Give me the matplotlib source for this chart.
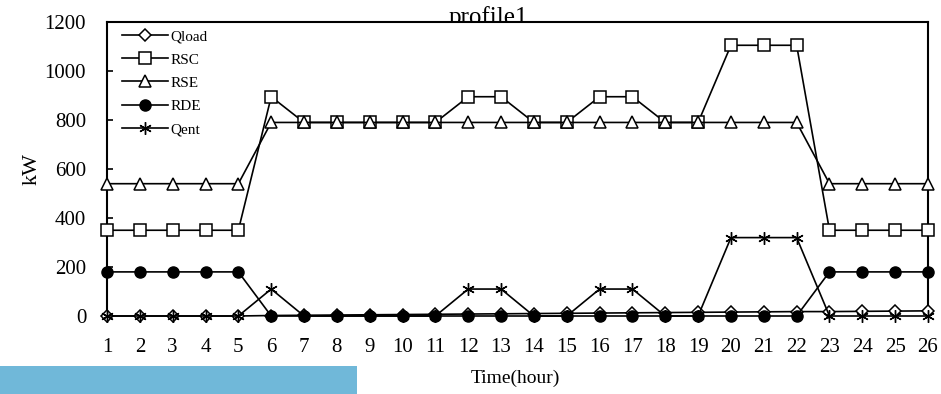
import matplotlib.pyplot as plt
from matplotlib.patches import Rectangle

plt.rcParams['font.family'] = ['Liberation Serif', 'DejaVu Serif']

hours = list(range(1, 27))
qload = [0, 0, 0, 0, 0, 2, 3, 4, 5, 6, 7, 8, 9, 10, 11, 12, 13, 14, 15, 16, 17, 18, 18, 19, 20, 21]
rsc = [350, 350, 350, 350, 350, 895, 790, 790, 790, 790, 790, 895, 895, 790, 790, 895, 895, 790, 790,
       1105, 1105, 1105, 350, 350, 350, 350]
rse = [540, 540, 540, 540, 540, 790, 790, 790, 790, 790, 790, 790, 790, 790, 790, 790, 790, 790, 790,
       790, 790, 790, 540, 540, 540, 540]
rde = [180, 180, 180, 180, 180, 0, 0, 0, 0, 0, 0, 0, 0, 0, 0, 0, 0, 0, 0, 0, 0, 0, 180, 180, 180, 180]
qent = [0, 0, 0, 0, 0, 110, 0, 0, 0, 0, 0, 110, 110, 0, 0, 110, 110, 0, 0, 320, 320, 320, 0, 0, 0, 0]

fig = plt.figure(figsize=(9.41, 3.94), dpi=100)
ax = fig.add_axes([107 / 941, 1 - 316 / 394, (928 - 107) / 941, (316 - 22) / 394])

lw = 1.2
ax.plot(hours, qload, color='black', lw=lw, marker='D', ms=6, mfc='white', mec='black', mew=1.1,
        label='Qload', clip_on=False, zorder=3)
ax.plot(hours, rsc, color='black', lw=lw, marker='s', ms=8, mfc='white', mec='black', mew=1.1,
        label='RSC', clip_on=False, zorder=3)
ax.plot(hours, rse, color='black', lw=lw, marker='^', ms=8, mfc='white', mec='black', mew=1.1,
        label='RSE', clip_on=False, zorder=3)
ax.plot(hours, rde, color='black', lw=lw, marker='o', ms=8, mfc='black', mec='black',
        label='RDE', clip_on=False, zorder=3)
ax.plot(hours, qent, color='black', lw=lw, marker=(6, 2, 0), ms=9, mec='black', mew=1.0,
        label='Qent', clip_on=False, zorder=3)

ax.set_xlim(1, 26)
ax.set_ylim(0, 1200)
ax.set_xticks(hours)
ax.set_yticks(range(0, 1201, 200))
ax.tick_params(axis='x', labelsize=15, length=0, pad=16)
ax.tick_params(axis='y', labelsize=15, direction='in', length=4, width=1.2, pad=15)
ax.spines['bottom'].set_visible(False)
for s in ['left', 'top', 'right']:
    ax.spines[s].set_linewidth(1.5)

ax.set_ylabel('kW', fontsize=16, labelpad=2)
fig.text(515 / 941, 1 - 378 / 394, 'Time(hour)', ha='center', va='center', fontsize=14)
fig.text(491 / 941, 1 - 24 / 394, 'profile1.', ha='center', va='baseline', fontsize=18, zorder=-1)

ax.legend(loc='upper left', bbox_to_anchor=(0.005, 1.01), frameon=False, fontsize=11,
          handlelength=3.0, labelspacing=0.62, handletextpad=0.2, borderaxespad=0.3)

fig.patches.append(Rectangle((0, 0), 357 / 941, 28 / 394, transform=fig.transFigure,
                             facecolor='#70b8d9', edgecolor='none'))

fig.savefig('out.png', dpi=100)
